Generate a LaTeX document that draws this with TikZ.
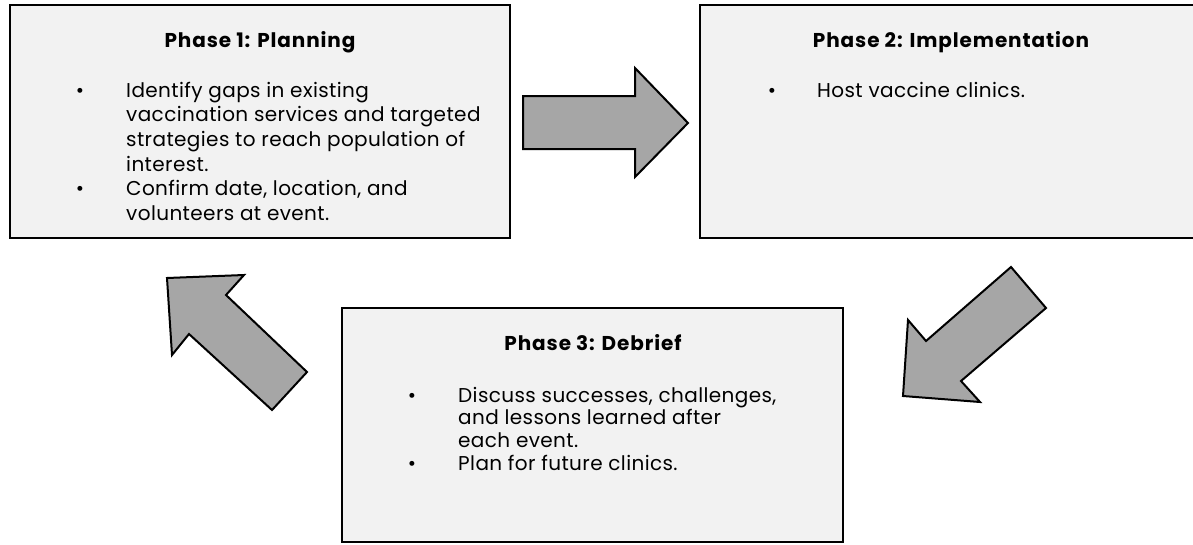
\documentclass[tikz,border=0pt]{standalone}
\usepackage{fontspec}
\setmainfont{Poppins}[LetterSpace=2]
\begin{document}
\begin{tikzpicture}[x=1pt,y=-1pt,
  phasebox/.style={draw=black,line width=2pt,fill=boxgray},
  blockarrow/.style={draw=black,line width=2pt,fill=arrowgray,line join=miter},
  title/.style={font=\fontsize{20}{24}\selectfont\bfseries\addfontfeatures{LetterSpace=4.5},anchor=base,inner sep=0pt},
  bodytext/.style={font=\fontsize{20}{24.7}\selectfont,anchor=base west,align=left,inner sep=0pt},
  bullet/.style={font=\fontsize{20}{24}\selectfont,anchor=base,inner sep=0pt}]
\definecolor{boxgray}{HTML}{F2F2F2}
\definecolor{arrowgray}{HTML}{A6A6A6}
\useasboundingbox (0,0) rectangle (1193,544);

% phase boxes
\draw[phasebox] (10,5) rectangle (510,238);
\draw[phasebox] (700,5) rectangle (1196,238);
\draw[phasebox] (342,308) rectangle (843,542);

% block arrows between the phases
\draw[blockarrow] (523,96) -- (635,96) -- (635,68) -- (688,123) -- (635,177) -- (635,149) -- (523,149) -- cycle;
\draw[blockarrow] (1011,267) -- (1046,308) -- (961,381) -- (980,402) -- (903,396) -- (908,320) -- (926,341) -- cycle;
\draw[blockarrow] (307,372) -- (272,410) -- (189,334) -- (172,355) -- (167,278) -- (244,275) -- (226,295) -- cycle;

% Phase 1 (multi-line texts are placed by the baseline of their last line)
\node[title] (t1) at (260,47) {Phase 1: Planning};
\node[bullet] (b1a) at (80,97) {•};
\node[bodytext] (p1a) at (126,171.1) {Identify gaps in existing\\vaccination services and targeted\\strategies to reach population of\\interest.};
\node[bullet] (b1b) at (80,195.8) {•};
\node[bodytext] (p1b) at (126,220.5) {Confirm date, location, and\\volunteers at event.};

% Phase 2
\node[title] (t2) at (951,47) {Phase 2: Implementation};
\node[bullet] (b2a) at (772,97) {•};
\node[bodytext] (p2a) at (817,97) {Host vaccine clinics.};

% Phase 3
\node[title] (t3) at (593,350) {Phase 3: Debrief};
\node[bullet] (b3a) at (412,402) {•};
\node[bodytext,font=\fontsize{20}{22.8}\selectfont] (p3a) at (458,447.6) {Discuss successes, challenges,\\and lessons learned after\\each event.};
\node[bullet] (b3b) at (412,470) {•};
\node[bodytext] (p3b) at (458,470) {Plan for future clinics.};
\end{tikzpicture}
\end{document}
